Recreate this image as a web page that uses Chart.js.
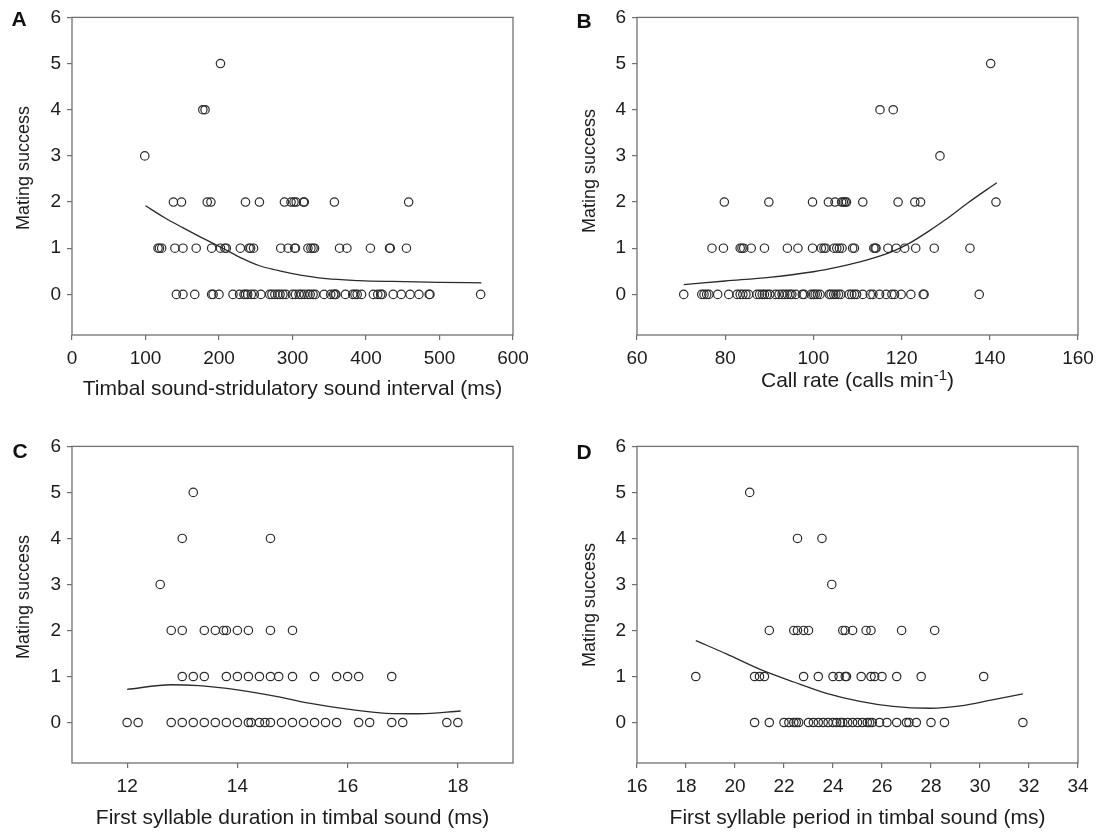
<!DOCTYPE html>
<html>
<head>
<meta charset="utf-8">
<script src="https://cdn.jsdelivr.net/npm/chart.js@4.4.0/dist/chart.umd.min.js"></script>
<style>
  html, body { margin: 0; padding: 0; background: #fff; }
  #fig { position: relative; width: 1097px; height: 833px; }
  #fig canvas { position: absolute; }
</style>
</head>
<body>
<div id="fig">
  <canvas id="panelA" width="548" height="429" style="left:0;top:0"></canvas>
  <canvas id="panelB" width="549" height="429" style="left:548px;top:0"></canvas>
  <canvas id="panelC" width="548" height="404" style="left:0;top:429px"></canvas>
  <canvas id="panelD" width="549" height="404" style="left:548px;top:429px"></canvas>
</div>
<script>
// x values of each male, grouped by mating success (index = number of matings)
const intervalByScore = [
  [142, 151, 167, 190, 192, 200, 219, 228, 234, 236, 239, 244, 248, 257, 269, 272, 276, 280, 283, 287, 291,
   300, 304, 309, 312, 316, 321, 324, 328, 331, 343, 352, 356, 358, 359, 372, 382, 385, 388, 394,
   410, 416, 420, 422, 437, 448, 460, 472, 486, 487, 556],
  [117, 119, 122, 140, 151, 169, 190, 202, 208, 210, 229, 241, 243, 247, 284, 294, 303, 304, 321, 325, 328, 330,
   364, 374, 406, 432, 433, 455],
  [138, 149, 184, 189, 236, 255, 289, 298, 302, 305, 315, 316, 357, 458],
  [99],
  [178, 181],
  [202]
];
const callRateByScore = [
  [70.6, 74.7, 75.2, 75.8, 76.3, 78.3, 80.8, 82.7, 83.4, 84, 84.7, 85.3, 87.2, 87.8, 88.4, 88.9, 89.5, 90.1,
   91.4, 92.2, 92.9, 93.5, 94.1, 94.7, 95.1, 96, 97.5, 97.9, 99.5, 100, 100.4, 100.9, 101.5, 103.6, 104, 104.6,
   105.1, 105.7, 106.2, 108.1, 108.7, 109.3, 109.8, 111.2, 112.9, 113.5, 115, 116.5, 117.8, 118.4, 119.9,
   122.1, 124.9, 125.1, 137.6],
  [77, 79.6, 83.4, 83.8, 84.2, 85.9, 88.9, 94.1, 96.5, 99.8, 101.8, 102.4, 102.8, 104.7, 105.3, 105.9, 106.5,
   108.9, 109.3, 113.7, 114, 114.2, 116.9, 118.8, 120.7, 123.2, 127.4, 135.5],
  [79.8, 89.9, 99.8, 103.4, 104.9, 106.4, 106.8, 107.2, 107.5, 111.2, 119.2, 123, 124.3, 141.4],
  [128.7],
  [115.1, 118.1],
  [140.2]
];
const durationByScore = [
  [12.0, 12.2, 12.8, 13.0, 13.2, 13.4, 13.6, 13.8, 14.0, 14.2, 14.25, 14.4, 14.5, 14.6, 14.8, 15.0, 15.2,
   15.4, 15.6, 15.8, 16.2, 16.4, 16.8, 17.0, 17.8, 18.0],
  [13.0, 13.2, 13.4, 13.8, 14.0, 14.2, 14.4, 14.6, 14.75, 15.0, 15.4, 15.8, 16.0, 16.2, 16.8],
  [12.8, 13.0, 13.4, 13.6, 13.75, 13.8, 14.0, 14.2, 14.6, 15.0],
  [12.6],
  [13.0, 14.6],
  [13.2]
];
const periodByScore = [
  [20.8, 21.4, 22.0, 22.2, 22.4, 22.5, 22.6, 23.0, 23.2, 23.4, 23.6, 23.8, 24.0, 24.15, 24.3, 24.4, 24.6,
   24.8, 25.0, 25.2, 25.4, 25.5, 25.6, 25.9, 26.2, 26.6, 27.0, 27.1, 27.4, 28.0, 28.55, 31.75],
  [18.4, 20.8, 21.0, 21.2, 22.8, 23.4, 24.0, 24.25, 24.5, 24.55, 25.15, 25.55, 25.7, 26.0, 26.6, 27.6, 30.15],
  [21.4, 22.4, 22.55, 22.8, 23.0, 24.4, 24.5, 24.8, 25.35, 25.55, 26.8, 28.15],
  [23.95],
  [22.55, 23.55],
  [20.6]
];

// fitted curves
const intervalCurveX = [100, 125, 150, 175, 205, 230, 255, 280, 300, 346, 391, 436, 500, 557];
const intervalCurveY = [1.92, 1.67, 1.45, 1.24, 1.0, 0.79, 0.62, 0.52, 0.45, 0.34, 0.30, 0.28, 0.26, 0.25];
const callRateCurveX = [70.6, 80, 90, 100, 106, 112, 118, 122, 126, 130, 135, 141.6];
const callRateCurveY = [0.21, 0.29, 0.37, 0.49, 0.6, 0.74, 0.93, 1.12, 1.36, 1.62, 1.98, 2.42];
const durationCurveX = [12, 12.8, 13.3, 14, 14.7, 15.3, 16, 16.7, 17.3, 18.05];
const durationCurveY = [0.72, 0.82, 0.80, 0.71, 0.57, 0.42, 0.29, 0.2, 0.19, 0.25];
const periodCurveX = [18.4, 19.65, 21.0, 22.4, 23.7, 25.1, 26.45, 27.95, 29.2, 30.5, 31.75];
const periodCurveY = [1.78, 1.49, 1.16, 0.88, 0.64, 0.46, 0.35, 0.31, 0.36, 0.49, 0.62];

// tick labels
const yTicks = [0, 1, 2, 3, 4, 5, 6];
const intervalTicks = [0, 100, 200, 300, 400, 500, 600];
const callRateTicks = [60, 80, 100, 120, 140, 160];
const durationTicks = [12, 14, 16, 18];
const periodTicks = [16, 18, 20, 22, 24, 26, 28, 30, 32, 34];

const FONT = '"Liberation Sans", Arial, Helvetica, sans-serif';
const INK = '#2b2b2b';
const TEXT = '#1c1c1c';
const FRAME = '#707070';

// box round the plot area, panel letter, y title, and the one x title with a superscript
const framePlugin = {
  id: 'frame',
  beforeDatasetsDraw(chart) {
    const { ctx, chartArea: a } = chart;
    ctx.save();
    ctx.strokeStyle = FRAME;
    ctx.lineWidth = 1.3;
    ctx.strokeRect(a.left, a.top, a.right - a.left, a.bottom - a.top);
    ctx.restore();
  },
  afterDraw(chart, args, o) {
    const { ctx, chartArea: a } = chart;
    ctx.save();
    ctx.fillStyle = '#111';
    ctx.textAlign = 'center';
    ctx.textBaseline = 'middle';
    ctx.font = 'bold 21px ' + FONT;
    ctx.fillText(o.letter, o.letterX, o.letterY);

    ctx.fillStyle = TEXT;
    ctx.save();
    ctx.translate(o.yTitleX, o.yTitleY);
    ctx.rotate(-Math.PI / 2);
    ctx.font = '18px ' + FONT;
    ctx.fillText('Mating success', 0, 0);
    ctx.restore();

    if (o.supTitle) {
      const [main, sup, tail] = o.supTitle;
      const big = '21px ' + FONT, small = '15px ' + FONT;
      ctx.textAlign = 'left';
      ctx.textBaseline = 'alphabetic';
      ctx.font = big;
      const w1 = ctx.measureText(main).width, w3 = ctx.measureText(tail).width;
      ctx.font = small;
      const w2 = ctx.measureText(sup).width;
      let x = (a.left + a.right) / 2 - (w1 + w2 + w3) / 2;
      const base = o.supBaseline;
      ctx.font = big;
      ctx.fillText(main, x, base);
      x += w1;
      ctx.font = small;
      ctx.fillText(sup, x, base - 7);
      x += w2;
      ctx.font = big;
      ctx.fillText(tail, x, base);
    }
    ctx.restore();
  }
};

function makePanel(id, p) {
  const points = [];
  p.rows.forEach((xs, score) => xs.forEach(x => points.push({ x, y: score })));
  const curve = p.curveX.map((x, i) => ({ x, y: p.curveY[i] }));

  return new Chart(document.getElementById(id), {
    type: 'scatter',
    data: {
      datasets: [
        {
          data: points,
          pointRadius: 4.2,
          pointHoverRadius: 4.2,
          pointBorderWidth: 1.2,
          pointBorderColor: INK,
          pointBackgroundColor: 'rgba(0,0,0,0)',
        },
        {
          data: curve,
          showLine: true,
          pointRadius: 0,
          borderColor: INK,
          borderWidth: 1.3,
          cubicInterpolationMode: 'monotone',
        },
      ],
    },
    options: {
      responsive: false,
      animation: false,
      layout: { padding: { top: 17, right: p.padRight, left: 0, bottom: 0 } },
      plugins: {
        legend: { display: false },
        tooltip: { enabled: false },
        frame: {
          letter: p.letter, letterX: p.letterX, letterY: p.letterY,
          yTitleX: p.yTitleX, yTitleY: p.yTitleY,
          supTitle: p.supTitle, supBaseline: p.supBaseline,
        },
      },
      scales: {
        x: {
          type: 'linear',
          min: p.xMin,
          max: p.xMax,
          afterBuildTicks: s => { s.ticks = p.xTicks.map(v => ({ value: v })); },
          afterFit: s => { s.height = p.xAxisHeight; s.paddingLeft = 0; s.paddingRight = 0; },
          border: { display: false },
          grid: { drawOnChartArea: false, tickLength: 5, color: FRAME, lineWidth: 1.2 },
          ticks: { font: { family: FONT, size: 19 }, color: TEXT, padding: 7, maxRotation: 0, autoSkip: false },
          title: {
            display: !!p.xTitle, text: p.xTitle || '', color: TEXT,
            font: { family: FONT, size: 21 },
            padding: { top: 0, bottom: p.xTitlePad },
          },
        },
        y: {
          min: -0.88,
          max: 6,
          afterBuildTicks: s => { s.ticks = yTicks.map(v => ({ value: v })); },
          afterFit: s => { s.width = p.yAxisWidth; },
          border: { display: false },
          grid: { drawOnChartArea: false, tickLength: 5, color: FRAME, lineWidth: 1.2 },
          ticks: { font: { family: FONT, size: 19 }, color: TEXT, padding: 6 },
          title: { display: false },
        },
      },
    },
    plugins: [framePlugin],
  });
}

makePanel('panelA', {
  rows: intervalByScore, curveX: intervalCurveX, curveY: intervalCurveY,
  xMin: 0, xMax: 600, xTicks: intervalTicks,
  xTitle: 'Timbal sound-stridulatory sound interval (ms)',
  letter: 'A', letterX: 19, letterY: 20, yTitleX: 24, yTitleY: 168,
  yAxisWidth: 72, padRight: 35, xAxisHeight: 94, xTitlePad: 27,
});
makePanel('panelB', {
  rows: callRateByScore, curveX: callRateCurveX, curveY: callRateCurveY,
  xMin: 60, xMax: 160, xTicks: callRateTicks,
  supTitle: ['Call rate (calls min', '-1', ')'], supBaseline: 387,
  letter: 'B', letterX: 36, letterY: 22, yTitleX: 42, yTitleY: 171,
  yAxisWidth: 89, padRight: 19, xAxisHeight: 94, xTitlePad: 27,
});
makePanel('panelC', {
  rows: durationByScore, curveX: durationCurveX, curveY: durationCurveY,
  xMin: 11, xMax: 19, xTicks: durationTicks,
  xTitle: 'First syllable duration in timbal sound (ms)',
  letter: 'C', letterX: 20, letterY: 23, yTitleX: 24, yTitleY: 168,
  yAxisWidth: 72, padRight: 35, xAxisHeight: 70, xTitlePad: 2,
});
makePanel('panelD', {
  rows: periodByScore, curveX: periodCurveX, curveY: periodCurveY,
  xMin: 16, xMax: 34, xTicks: periodTicks,
  xTitle: 'First syllable period in timbal sound (ms)',
  letter: 'D', letterX: 36, letterY: 24, yTitleX: 42, yTitleY: 176,
  yAxisWidth: 89, padRight: 19, xAxisHeight: 70, xTitlePad: 2,
});
</script>
</body>
</html>
